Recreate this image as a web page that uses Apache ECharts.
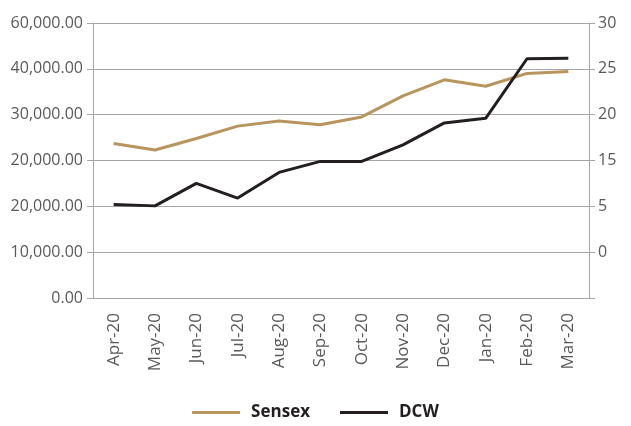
<!DOCTYPE html>
<html>
<head>
<meta charset="utf-8">
<script src="https://cdn.jsdelivr.net/npm/echarts@6/dist/echarts.min.js"></script>
<style>
  html, body { margin: 0; padding: 0; background: #fff; }
  #chart { width: 631px; height: 426px; }
</style>
</head>
<body>
<div id="chart"></div>
<script>
const categories = ['Apr-20', 'May-20', 'Jun-20', 'Jul-20', 'Aug-20', 'Sep-20', 'Oct-20', 'Nov-20', 'Dec-20', 'Jan-20', 'Feb-20', 'Mar-20']
const sensex = [33700, 32300, 34800, 37500, 38600, 37800, 39500, 44100, 47600, 46200, 49000, 49400]
const dcw = [10.2, 10.05, 12.5, 10.9, 13.7, 14.9, 14.9, 16.7, 19.1, 19.6, 26.1, 26.15]
// tick labels exactly as printed in the source picture
const leftTicks = ['0.00', '10,000.00', '20,000.00', '20,000.00', '30,000.00', '40,000.00', '60,000.00']
const rightTicks = ['', '0', '5', '15', '20', '25', '30']

const gray = '#a6a6a6'
const textColor = '#595959'
const font = '"Open Sans", "Noto Sans", sans-serif'

const chart = echarts.init(document.getElementById('chart'))
chart.setOption({
  animation: false,
  color: ['#b8955c', '#231f20'],
  grid: {
    top: 23,
    left: 93,
    right: 42,
    bottom: 128
  },
  legend: {
    bottom: 0,
    left: 'center',
    icon: 'rect',
    itemWidth: 48,
    itemHeight: 3,
    itemGap: 30,
    data: ['Sensex', 'DCW'],
    textStyle: {
      color: '#231f20',
      fontFamily: font,
      fontSize: 17,
      fontWeight: 'bold',
      padding: [0, 0, 0, 6]
    }
  },
  xAxis: [{
    type: 'category',
    data: categories,
    boundaryGap: true,
    axisLine: { lineStyle: { color: gray, width: 1 } },
    axisTick: { length: 6, lineStyle: { color: gray } },
    axisLabel: {
      rotate: 90,
      margin: 15,
      color: textColor,
      fontFamily: font,
      fontSize: 17
    }
  }],
  yAxis: [{
    type: 'value',
    min: 0,
    max: 60000,
    interval: 10000,
    axisLine: { show: true, lineStyle: { color: gray } },
    axisTick: { show: true, length: 6, lineStyle: { color: gray } },
    splitLine: { lineStyle: { color: gray, width: 1 } },
    axisLabel: {
      margin: 10,
      color: textColor,
      fontFamily: font,
      fontSize: 16,
      formatter: function (v) { return leftTicks[Math.round(v / 10000)] }
    }
  }, {
    type: 'value',
    min: 0,
    max: 30,
    interval: 5,
    position: 'right',
    axisLine: { show: true, lineStyle: { color: gray } },
    axisTick: { show: true, length: 6, lineStyle: { color: gray } },
    splitLine: { show: false },
    axisLabel: {
      margin: 9,
      color: textColor,
      fontFamily: font,
      fontSize: 16,
      formatter: function (v) { return rightTicks[Math.round(v / 5)] }
    }
  }],
  series: [
    {
      name: 'Sensex',
      type: 'line',
      yAxisIndex: 0,
      symbol: 'none',
      lineStyle: { width: 3 },
      data: sensex
    },
    {
      name: 'DCW',
      type: 'line',
      yAxisIndex: 1,
      symbol: 'none',
      lineStyle: { width: 3 },
      data: dcw
    }
  ]
})
</script>
</body>
</html>
